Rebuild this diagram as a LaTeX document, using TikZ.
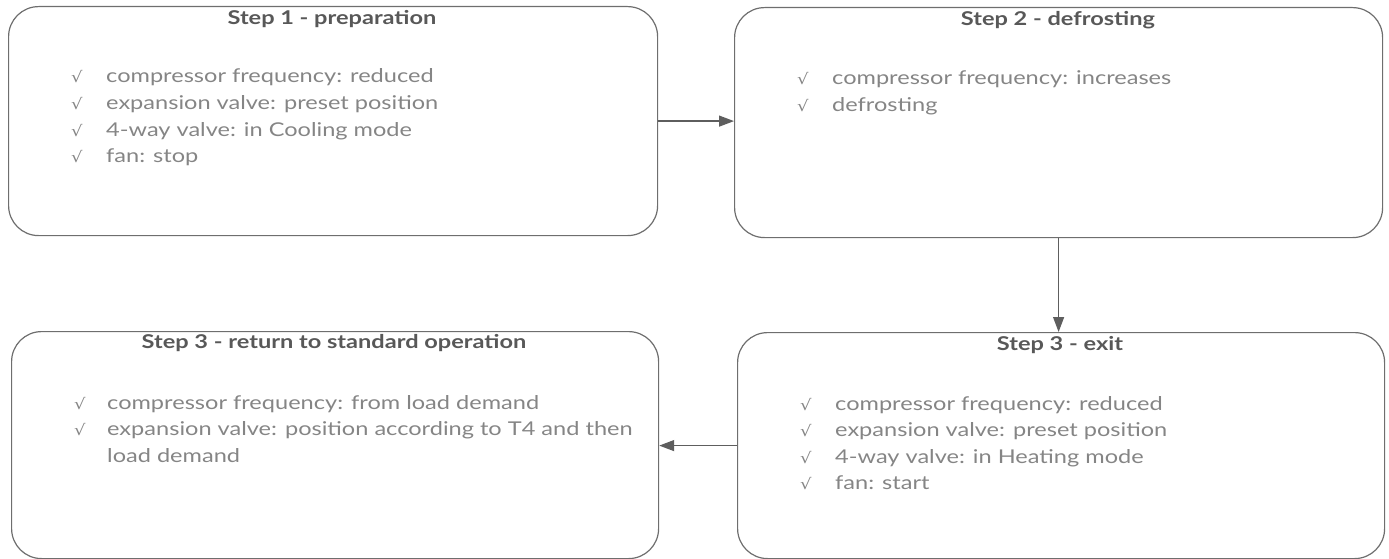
\documentclass[tikz,border=0pt]{standalone}
\usepackage{fontspec}
\setmainfont{Lato}
\newfontfamily\bodyfont{Lato}[FakeStretch=1.24]
\newfontfamily\symf{DejaVu Sans}[FakeStretch=1.2]
\usetikzlibrary{arrows.meta}
\definecolor{edgec}{HTML}{6E6E6E}
\definecolor{titlec}{HTML}{585858}
\definecolor{bodyc}{HTML}{858585}
\definecolor{arrowc}{HTML}{5E5E5E}
\begin{document}
\begin{tikzpicture}[x=1pt,y=-1pt,
  stepbox/.style={draw=edgec, line width=1.2pt, rounded corners=30pt, inner sep=0pt, anchor=north west},
  steptitle/.style={font=\bodyfont\bfseries\fontsize{19}{22}\selectfont, text=titlec, inner sep=0pt, anchor=base},
  stepline/.style={font=\bodyfont\fontsize{19}{22}\selectfont, text=bodyc, inner sep=0pt, anchor=base west},
  chkmark/.style={font=\symf\fontsize{15}{17}\selectfont, text=bodyc, inner sep=0pt, anchor=base west},
  conn/.style={draw=arrowc, line width=1.2pt, -{Triangle[length=15pt,width=11pt]}}]
\useasboundingbox (0,0) rectangle (1389,559);
% boxes
\node[stepbox, minimum width=649pt, minimum height=229pt] (b1) at (8,6) {};
\node[stepbox, minimum width=648pt, minimum height=230pt] (b2) at (734,7) {};
\node[stepbox, minimum width=647pt, minimum height=227pt] (b3) at (11,331) {};
\node[stepbox, minimum width=647pt, minimum height=226pt] (b4) at (737,332) {};
% titles
\node[steptitle] (t1) at (332,24.5) {Step 1 - preparation};
\node[steptitle] (t2) at (1058,25.5) {Step 2 - defrosting};
\node[steptitle] (t3) at (334,348.5) {Step 3 - return to standard operation};
\node[steptitle] (t4) at (1060,350.5) {Step 3 - exit};
% box 1
\node[chkmark] (c11) at (71,83) {√};
\node[stepline] (l11) at (106,83) {compressor frequency: reduced};
\node[chkmark] (c12) at (71,109.5) {√};
\node[stepline] (l12) at (106,109.5) {expansion valve: preset position};
\node[chkmark] (c13) at (71,136) {√};
\node[stepline] (l13) at (106,136) {4-way valve: in Cooling mode};
\node[chkmark] (c14) at (71,162.5) {√};
\node[stepline] (l14) at (106,162.5) {fan: stop};
% box 2
\node[chkmark] (c21) at (797,85) {√};
\node[stepline] (l21) at (832,85) {compressor frequency: increases};
\node[chkmark] (c22) at (797,111.5) {√};
\node[stepline] (l22) at (832,111.5) {defrosting};
% box 3
\node[chkmark] (c31) at (74,409) {√};
\node[stepline] (l31) at (107,409) {compressor frequency: from load demand};
\node[chkmark] (c32) at (74,435.5) {√};
\node[stepline] (l32) at (107,435.5) {expansion valve: position according to T4 and then};
\node[stepline] (l33) at (107,462) {load demand};
% box 4
\node[chkmark] (c41) at (800,410) {√};
\node[stepline] (l41) at (835,410) {compressor frequency: reduced};
\node[chkmark] (c42) at (800,436.5) {√};
\node[stepline] (l42) at (835,436.5) {expansion valve: preset position};
\node[chkmark] (c43) at (800,463) {√};
\node[stepline] (l43) at (835,463) {4-way valve: in Heating mode};
\node[chkmark] (c44) at (800,489.5) {√};
\node[stepline] (l44) at (835,489.5) {fan: start};
% connectors
\draw[conn] (b1.east) -- (b1.east -| b2.west);
\draw[conn] (b2.south) -- (b2.south |- b4.north);
\draw[conn] (b4.west) -- (b4.west -| b3.east);
\end{tikzpicture}
\end{document}
